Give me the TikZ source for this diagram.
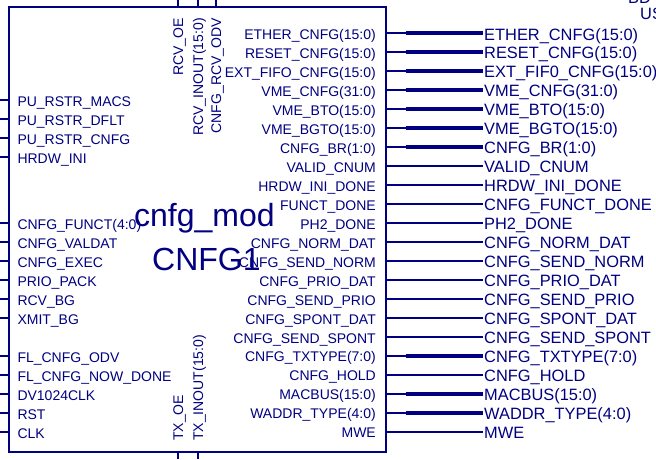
\documentclass[tikz,border=0pt]{standalone}
\usepackage{fontspec}
\setmainfont{Liberation Sans}
\definecolor{nv}{RGB}{0,0,128}
\begin{document}
\begin{tikzpicture}[x=1pt,y=-1pt,
  pin/.style={draw=nv,line width=2pt},
  bus/.style={draw=nv,line width=4.3pt},
  lab/.style={inner sep=0pt,text=nv,font=\fontsize{14}{16}\selectfont},
  olab/.style={inner sep=0pt,text=nv,font=\fontsize{16.4}{18}\selectfont},
  big/.style={inner sep=0pt,text=nv,font=\fontsize{32}{36}\selectfont}]
\useasboundingbox (0,0) rectangle (656,459);
\clip (0,0) rectangle (656,459);
% block
\node[draw=nv,line width=2pt,minimum width=377.5pt,minimum height=445.3pt,anchor=north west,inner sep=0pt] (box) at (7.5,5.7) {};
% top pins
\coordinate (t1) at (178.3,0);
\coordinate (t2) at (198.3,0);
\coordinate (t3) at (216.3,0);
\foreach \t in {t1,t2,t3} \draw[pin] (\t) -- (box.north -| \t);
\node[lab,rotate=90,anchor=base east] (rcvoe) at (183,18) {RCV\_OE};
\node[lab,rotate=90,anchor=base east] (rcvio) at (203,18) {RCV\_INOUT(15:0)};
\node[lab,rotate=90,anchor=base east] (rcvodv) at (221,18) {CNFG\_RCV\_ODV};
% bottom pins
\coordinate (b1) at (178.3,459);
\coordinate (b2) at (198.3,459);
\foreach \t in {b1,b2} \draw[pin] (\t) -- (box.south -| \t);
\node[lab,rotate=90,anchor=base west] (txoe) at (183,441) {TX\_OE};
\node[lab,rotate=90,anchor=base west] (txio) at (203,441) {TX\_INOUT(15:0)};
% left pins
\foreach \k/\a [count=\i] in {3.5/{PU\_RSTR\_MACS},4.5/{PU\_RSTR\_DFLT},5.5/{PU\_RSTR\_CNFG},6.5/{HRDW\_INI},
  10/{CNFG\_FUNCT(4:0)},11/{CNFG\_VALDAT},12/{CNFG\_EXEC},13/{PRIO\_PACK},14/{RCV\_BG},15/{XMIT\_BG},
  17/{FL\_CNFG\_ODV},18/{FL\_CNFG\_NOW\_DONE},19/{DV1024CLK},20/{RST},21/{CLK}}{
  \pgfmathsetmacro\yy{33.3+18.97*\k}
  \coordinate (L\i) at (0,\yy);
  \draw[pin] (L\i) -- (box.west |- L\i);
  \node[lab,anchor=base west] (ll\i) at (17.3,\yy+6.5) {\a};
}
% right pins
\foreach \a/\b/\w [count=\i from 0] in {
  {ETHER\_CNFG(15:0)}/{ETHER\_CNFG(15:0)}/1,
  {RESET\_CNFG(15:0)}/{RESET\_CNFG(15:0)}/1,
  {EXT\_FIFO\_CNFG(15:0)}/{EXT\_FIF0\_CNFG(15:0)}/1,
  {VME\_CNFG(31:0)}/{VME\_CNFG(31:0)}/1,
  {VME\_BTO(15:0)}/{VME\_BTO(15:0)}/1,
  {VME\_BGTO(15:0)}/{VME\_BGTO(15:0)}/1,
  {CNFG\_BR(1:0)}/{CNFG\_BR(1:0)}/1,
  {VALID\_CNUM}/{VALID\_CNUM}/0,
  {HRDW\_INI\_DONE}/{HRDW\_INI\_DONE}/0,
  {FUNCT\_DONE}/{CNFG\_FUNCT\_DONE}/0,
  {PH2\_DONE}/{PH2\_DONE}/0,
  {CNFG\_NORM\_DAT}/{CNFG\_NORM\_DAT}/0,
  {CNFG\_SEND\_NORM}/{CNFG\_SEND\_NORM}/0,
  {CNFG\_PRIO\_DAT}/{CNFG\_PRIO\_DAT}/0,
  {CNFG\_SEND\_PRIO}/{CNFG\_SEND\_PRIO}/0,
  {CNFG\_SPONT\_DAT}/{CNFG\_SPONT\_DAT}/0,
  {CNFG\_SEND\_SPONT}/{CNFG\_SEND\_SPONT}/0,
  {CNFG\_TXTYPE(7:0)}/{CNFG\_TXTYPE(7:0)}/1,
  {CNFG\_HOLD}/{CNFG\_HOLD}/0,
  {MACBUS(15:0)}/{MACBUS(15:0)}/1,
  {WADDR\_TYPE(4:0)}/{WADDR\_TYPE(4:0)}/1,
  {MWE}/{MWE}/0}{
  \pgfmathsetmacro\yy{33.3+18.97*\i}
  \coordinate (B\i) at (406,\yy);
  \coordinate (R\i) at (483,\yy);
  \node[lab,anchor=base east] (ri\i) at (376,\yy+6.2) {\a};
  \node[olab,anchor=base west] (ro\i) at (484,\yy+6.7) {\b};
  \ifnum\w=1
    \draw[pin] (box.east |- R\i) -- (B\i);
    \draw[bus] (B\i) -- (R\i);
  \else
    \draw[pin] (box.east |- R\i) -- (R\i);
  \fi
}
% big labels
\node[big,anchor=base west] (modname) at (134,226) {cnfg\_mod};
\node[big,anchor=base west] (inst) at (152,270) {CNFG1};
% cut-off text at top right
\node[olab,anchor=base west] (bd) at (628,3.5) {BD};
\node[olab,anchor=base west] (us) at (640,19.5) {US};
\end{tikzpicture}
\end{document}
